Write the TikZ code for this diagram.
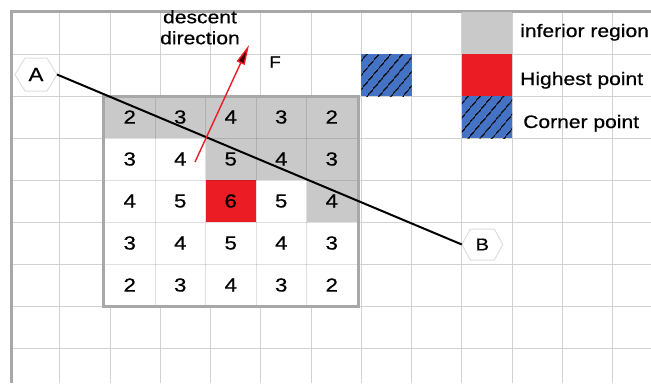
\documentclass[tikz,border=0pt]{standalone}
\usepackage{fontspec}
\setmainfont{Liberation Sans}[FakeStretch=1.17,FakeBold=0.6]
\usetikzlibrary{calc,arrows.meta,patterns.meta}
\definecolor{gridc}{HTML}{D2D2D2}
\definecolor{borderc}{HTML}{A8A8A8}
\definecolor{infc}{HTML}{C9C9C9}
\definecolor{redc}{HTML}{EC1C24}
\definecolor{bluec}{HTML}{4472C4}
\definecolor{hexc}{HTML}{DEDEDE}
\begin{document}
\begin{tikzpicture}[x=1bp,y=-1bp,
  lbl/.style={font=\fontsize{18bp}{21bp}\selectfont, inner sep=0pt},
  digit/.style={font=\fontsize{19bp}{21bp}\selectfont, inner sep=0pt},
  gridline/.style={gridc, line width=0.9bp},
  cellline/.style={black, opacity=0.12, line width=0.9bp},
  hatchcell/.style={fill=bluec, postaction={pattern={Lines[angle=50,distance=9.5bp,line width=1.5bp]}, pattern color=black}},
  hexline/.style={hexc, line width=1bp},
]
\useasboundingbox (0,0) rectangle (651,383);
\fill[white] (0,0) rectangle (651,383);
% background grid
\foreach \k in {1,...,12} \draw[gridline] ({9.7+50.23*\k},12) -- ({9.7+50.23*\k},383);
\foreach \k in {1,...,8} \draw[gridline] (11,{12+42*\k}) -- (651,{12+42*\k});
\draw[borderc, line width=3bp] (11,383) -- (11,11.5) -- (651,11.5);
% legend cells
\fill[infc] (461.8,12) rectangle (512,54);
\fill[redc] (461.8,54) rectangle (512,96);
\path[hatchcell] (461.8,96) rectangle (512,138);
\path[hatchcell] (361.3,54) rectangle (411.5,96);
% legend texts
\node[lbl, anchor=base west] (t1) at (520,37) {inferior region};
\node[lbl, anchor=base west] (t2) at (520,85) {Highest point};
\node[lbl, anchor=base west] (t3) at (523,128) {Corner point};
% table
\fill[white] (104.5,96) rectangle (357,306);
\fill[infc] (104.5,96) rectangle (357,138);
\fill[infc] (205.5,138) rectangle (357,180);
\fill[infc] (306.5,180) rectangle (357,222);
\fill[redc] (205.5,180) rectangle (256,222);
\foreach \x in {155,205.5,256,306.5} \draw[cellline] (\x,96) -- (\x,306);
\foreach \y in {138,180,222,264} \draw[cellline] (104.5,\y) -- (357,\y);
\draw[borderc, line width=3bp] (103,96.5) rectangle (358.5,306.5);
\foreach \r/\vals in {1/{2,3,4,3,2},2/{3,4,5,4,3},3/{4,5,6,5,4},4/{3,4,5,4,3},5/{2,3,4,3,2}}{
  \foreach \v [count=\c] in \vals {
    \node[digit] (n\r\c) at ({104.5+50.5*(\c-0.5)},{96+42*(\r-0.5)}) {\v};
  }
}
% labels
\node[lbl, align=center, anchor=north] (dd) at (200,10) {descent\\direction};
\node[lbl, font=\fontsize{16bp}{18bp}\selectfont] (F) at (275,62) {F};
% A and B
\node[lbl, font=\fontsize{19bp}{21bp}\selectfont] (A) at (36,74.5) {A};
\node[lbl, font=\fontsize{17bp}{20bp}\selectfont] (B) at (482.3,244.5) {B};
\draw[hexline] ($(A)+(-21,0)$) -- ($(A)+(-11,-16.5)$) -- ($(A)+(11,-16.5)$) -- ($(A)+(21,0)$) -- ($(A)+(11,16.5)$) -- ($(A)+(-11,16.5)$) -- cycle;
\draw[hexline] ($(B)+(-20.5,0)$) -- ($(B)+(-12,-15.5)$) -- ($(B)+(12,-15.5)$) -- ($(B)+(20.5,0)$) -- ($(B)+(12,15.5)$) -- ($(B)+(-12,15.5)$) -- cycle;
\coordinate (Ae) at ($(A)+(21,0)$);
\coordinate (Bw) at ($(B)+(-20.5,0)$);
\draw[black, line width=2bp] (Ae) -- (Bw);
% descent arrow
\coordinate (arS) at (195,162);
\coordinate (arT) at (249,45);
\draw[redc, line width=1.4bp, -{Triangle[length=20bp,width=8.5bp,fill=black!75!red]}] (arS) -- (arT);
\end{tikzpicture}
\end{document}
